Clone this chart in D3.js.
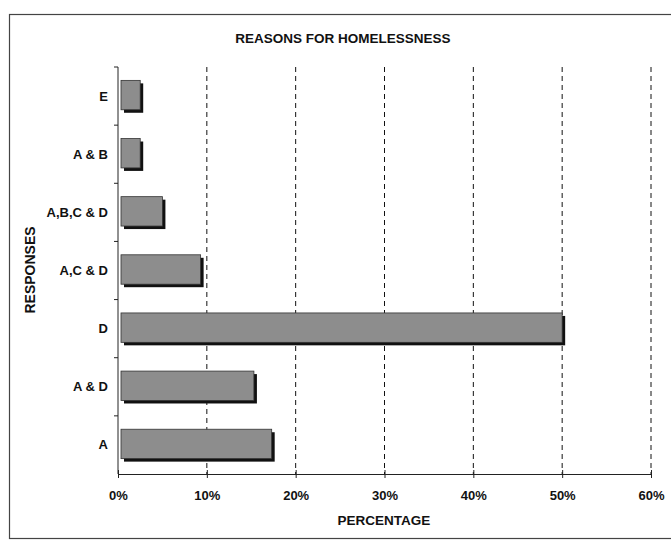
<!DOCTYPE html>
<html><head><meta charset="utf-8">
<script src="https://cdn.jsdelivr.net/npm/d3@7/dist/d3.min.js"></script>
<style>
body{margin:0;background:#fff;}
text{font-family:"Liberation Sans",Arial,sans-serif;font-weight:bold;fill:#111;}
</style></head>
<body><svg id="c" width="671" height="540"></svg>
<script>
const categories = ["E","A & B","A,B,C & D","A,C & D","D","A & D","A"];
const values = [2.5, 2.5, 5.0, 9.3, 50.0, 15.3, 17.3];
const xTicks = [0,10,20,30,40,50,60];
const tickLabels = ["0%","10%","20%","30%","40%","50%","60%"];
const title = "REASONS FOR HOMELESSNESS";
const xTitle = "PERCENTAGE";
const yTitle = "RESPONSES";

const svg = d3.select("#c");
const L = 118, R = 651, T = 67, B = 474;
const x = d3.scaleLinear().domain([0,60]).range([L,R]);
const y = d3.scaleBand().domain(categories).range([T,B]).paddingInner(0.46).paddingOuter(0.23);

// border
svg.append("rect").attr("x",9.5).attr("y",14.5).attr("width",720).attr("height",524)
  .attr("fill","none").attr("stroke","#444").attr("stroke-width",1.2);

// title
svg.append("text").attr("x",343).attr("y",43).attr("text-anchor","middle")
  .attr("font-size",13.5).text(title);

// gridlines
svg.append("g").selectAll("line").data(xTicks.slice(1)).join("line")
  .attr("x1",d=>x(d)).attr("x2",d=>x(d)).attr("y1",T).attr("y2",B)
  .attr("stroke","#111").attr("stroke-width",1).attr("stroke-dasharray","5,4");

// bars
const g = svg.append("g");
const bh = y.bandwidth();
g.selectAll("rect.sh").data(categories).join("rect").attr("class","sh")
  .attr("x",(d)=>x(0)+6).attr("y",d=>y(d)+3)
  .attr("width",(d,i)=>x(values[i])-x(0)-3).attr("height",bh-2)
  .attr("fill","#111");
g.selectAll("rect.bar").data(categories).join("rect").attr("class","bar")
  .attr("x",x(0)+3).attr("y",d=>y(d))
  .attr("width",(d,i)=>x(values[i])-x(0)-3).attr("height",bh-2)
  .attr("fill","#8d8d8d").attr("stroke","#333").attr("stroke-width",0.8);

// x axis
const xa = d3.axisBottom(x).tickValues(xTicks).tickFormat((d,i)=>tickLabels[i]).tickSize(4).tickPadding(13);
const xg = svg.append("g").attr("transform",`translate(0,${B})`).call(xa);
xg.select(".domain").attr("stroke","#222");
xg.selectAll(".tick line").attr("y1",-4).attr("y2",4).attr("stroke","#222");
xg.selectAll("text").attr("font-size",13).attr("fill","#111").style("font-family","Liberation Sans, Arial, sans-serif").style("font-weight","bold");

// y axis
const yg = svg.append("g").attr("transform",`translate(${L},0)`);
yg.append("line").attr("x1",0).attr("x2",0).attr("y1",T).attr("y2",B).attr("stroke","#222");
const bounds = d3.range(categories.length).map(i=>T + i*(B-T)/categories.length);
yg.selectAll("line.t").data(bounds).join("line").attr("class","t")
  .attr("x1",-4).attr("x2",0).attr("y1",d=>d).attr("y2",d=>d).attr("stroke","#222");
yg.selectAll("text").data(categories).join("text")
  .attr("x",-10).attr("y",d=>y(d)+bh/2).attr("dy","0.35em").attr("text-anchor","end")
  .attr("font-size",13).text(d=>d);

// axis titles
svg.append("text").attr("x",384).attr("y",525).attr("text-anchor","middle").attr("font-size",13.5).text(xTitle);
svg.append("text").attr("transform","translate(35,270) rotate(-90)").attr("text-anchor","middle").attr("font-size",14).text(yTitle);
</script></body></html>
